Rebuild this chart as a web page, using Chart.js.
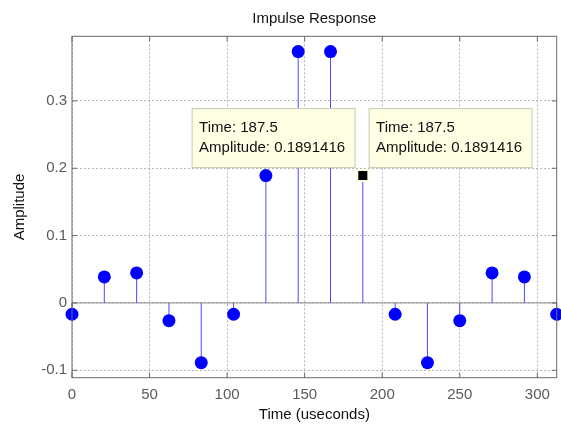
<!DOCTYPE html>
<html>
<head>
<meta charset="utf-8">
<title>Impulse Response</title>
<script src="https://cdn.jsdelivr.net/npm/chart.js@4/dist/chart.umd.min.js"></script>
<style>
  body { margin: 0; background: #fff; }
  canvas { display: block; }
</style>
</head>
<body>
<canvas id="impulse-chart" width="561" height="425"></canvas>
<script>
const timeUs = [0, 20.83, 41.67, 62.5, 83.33, 104.17, 125, 145.83, 166.67, 187.5, 208.33, 229.17, 250, 270.83, 291.67, 312.5];
const amplitude = [-0.0168, 0.0386, 0.0446, -0.0263, -0.0887, -0.0168, 0.1891416, 0.3733, 0.3733, 0.1891416, -0.0168, -0.0887, -0.0263, 0.0446, 0.0386, -0.0168];
const xTicks = [0, 50, 100, 150, 200, 250, 300];
const yTicks = [-0.1, 0, 0.1, 0.2, 0.3];
const tipIndex = 9;

const font = "'Liberation Sans', Arial, sans-serif";
const frameColor = '#6a6a6a';

const points = timeUs.map((t, i) => ({ x: t, y: amplitude[i] }));

// stems + zero line under the markers
const stemPlugin = {
    id: 'stems',
    beforeDatasetsDraw(chart) {
        const ctx = chart.ctx;
        const xs = chart.scales.x;
        const ys = chart.scales.y;
        const area = chart.chartArea;
        const y0 = ys.getPixelForValue(0);
        ctx.save();
        ctx.strokeStyle = '#8c8c8c';
        ctx.lineWidth = 1;
        ctx.beginPath();
        ctx.moveTo(area.left, y0);
        ctx.lineTo(area.right, y0);
        ctx.stroke();
        ctx.strokeStyle = '#4a4aff';
        for (let i = 0; i < timeUs.length; i++) {
            const px = xs.getPixelForValue(timeUs[i]);
            ctx.beginPath();
            ctx.moveTo(px, y0);
            ctx.lineTo(px, ys.getPixelForValue(amplitude[i]));
            ctx.stroke();
        }
        ctx.restore();
    }
};

// MATLAB style box, inward ticks and the two data tips
const framePlugin = {
    id: 'frame',
    afterDraw(chart) {
        const ctx = chart.ctx;
        const xs = chart.scales.x;
        const ys = chart.scales.y;
        const a = chart.chartArea;
        const len = 5;
        ctx.save();
        ctx.strokeStyle = frameColor;
        ctx.lineWidth = 1;
        ctx.strokeRect(a.left, a.top, a.right - a.left, a.bottom - a.top);
        ctx.beginPath();
        xTicks.forEach(v => {
            const px = xs.getPixelForValue(v);
            ctx.moveTo(px, a.bottom); ctx.lineTo(px, a.bottom - len);
            ctx.moveTo(px, a.top); ctx.lineTo(px, a.top + len);
        });
        yTicks.forEach(v => {
            const py = ys.getPixelForValue(v);
            ctx.moveTo(a.left, py); ctx.lineTo(a.left + len, py);
            ctx.moveTo(a.right, py); ctx.lineTo(a.right - len, py);
        });
        ctx.stroke();

        const px = xs.getPixelForValue(timeUs[tipIndex]);
        const py = ys.getPixelForValue(amplitude[tipIndex]);
        const lines = ['Time: ' + timeUs[tipIndex], 'Amplitude: ' + amplitude[tipIndex]];
        const w = 163, h = 59;
        [px - 7.7 - w, px + 6.3].forEach(bx => {
            const by = py - 8 - h;
            ctx.fillStyle = '#ffffe4';
            ctx.fillRect(bx, by, w, h);
            ctx.strokeStyle = '#c8c8b8';
            ctx.strokeRect(bx, by, w, h);
            ctx.fillStyle = '#111';
            ctx.font = '15px ' + font;
            ctx.textBaseline = 'middle';
            ctx.textAlign = 'left';
            ctx.fillText(lines[0], bx + 7, py - 48);
            ctx.fillText(lines[1], bx + 7, py - 28);
        });
        ctx.restore();
    }
};

const impulseCanvas = document.getElementById('impulse-chart');
let impulseChart = new Chart(impulseCanvas, {
    type: 'scatter',
    data: {
        datasets: [{
            data: points,
            clip: false,
            backgroundColor: '#0000ff',
            borderColor: '#0000ff',
            borderWidth: 0,
            pointRadius: ctx => ctx.dataIndex === tipIndex ? 0 : 6.5
        }, {
            data: [points[tipIndex]],
            clip: false,
            pointStyle: 'rect',
            pointRadius: 7.8,
            backgroundColor: '#000',
            borderColor: '#ffffe4',
            borderWidth: 2
        }]
    },
    options: {
        responsive: false,
        animation: false,
        devicePixelRatio: 1,
        layout: { autoPadding: false, padding: { right: 4.3 } },
        events: [],
        scales: {
            x: {
                type: 'linear',
                min: 0,
                max: 312.5,
                afterBuildTicks: s => { s.ticks = xTicks.map(v => ({ value: v })); },
                afterFit: s => { s.height = 47.3; s.paddingLeft = 0; s.paddingRight = 0; },
                grid: { color: '#b8b8b8', drawTicks: false },
                border: { display: false, dash: [2, 2] },
                ticks: {
                    padding: 7.7,
                    color: '#5a5a5a',
                    font: { family: font, size: 15 },
                    callback: v => String(v)
                },
                title: {
                    display: true,
                    text: 'Time (useconds)',
                    color: '#111',
                    font: { family: font, size: 15 },
                    padding: { top: 0, bottom: 1.6 }
                }
            },
            y: {
                type: 'linear',
                min: -0.111,
                max: 0.396,
                afterBuildTicks: s => { s.ticks = yTicks.map(v => ({ value: v })); },
                afterFit: s => { s.width = 72; s.paddingTop = 0; s.paddingBottom = 0; },
                grid: { color: '#b8b8b8', drawTicks: false },
                border: { display: false, dash: [2, 2] },
                ticks: {
                    padding: 5,
                    color: '#5a5a5a',
                    font: { family: font, size: 15 },
                    callback: v => String(v)
                },
                title: {
                    display: true,
                    text: 'Amplitude',
                    color: '#111',
                    font: { family: font, size: 15 },
                    padding: { top: 11, bottom: 0 }
                }
            }
        },
        plugins: {
            legend: { display: false },
            tooltip: { enabled: false },
            title: {
                display: true,
                text: 'Impulse Response',
                fullSize: false,
                color: '#111',
                font: { family: font, size: 15, weight: 'normal' },
                padding: { top: 9.5, bottom: 8.8 }
            }
        }
    },
    plugins: [stemPlugin, framePlugin]
});
</script>
</body>
</html>
